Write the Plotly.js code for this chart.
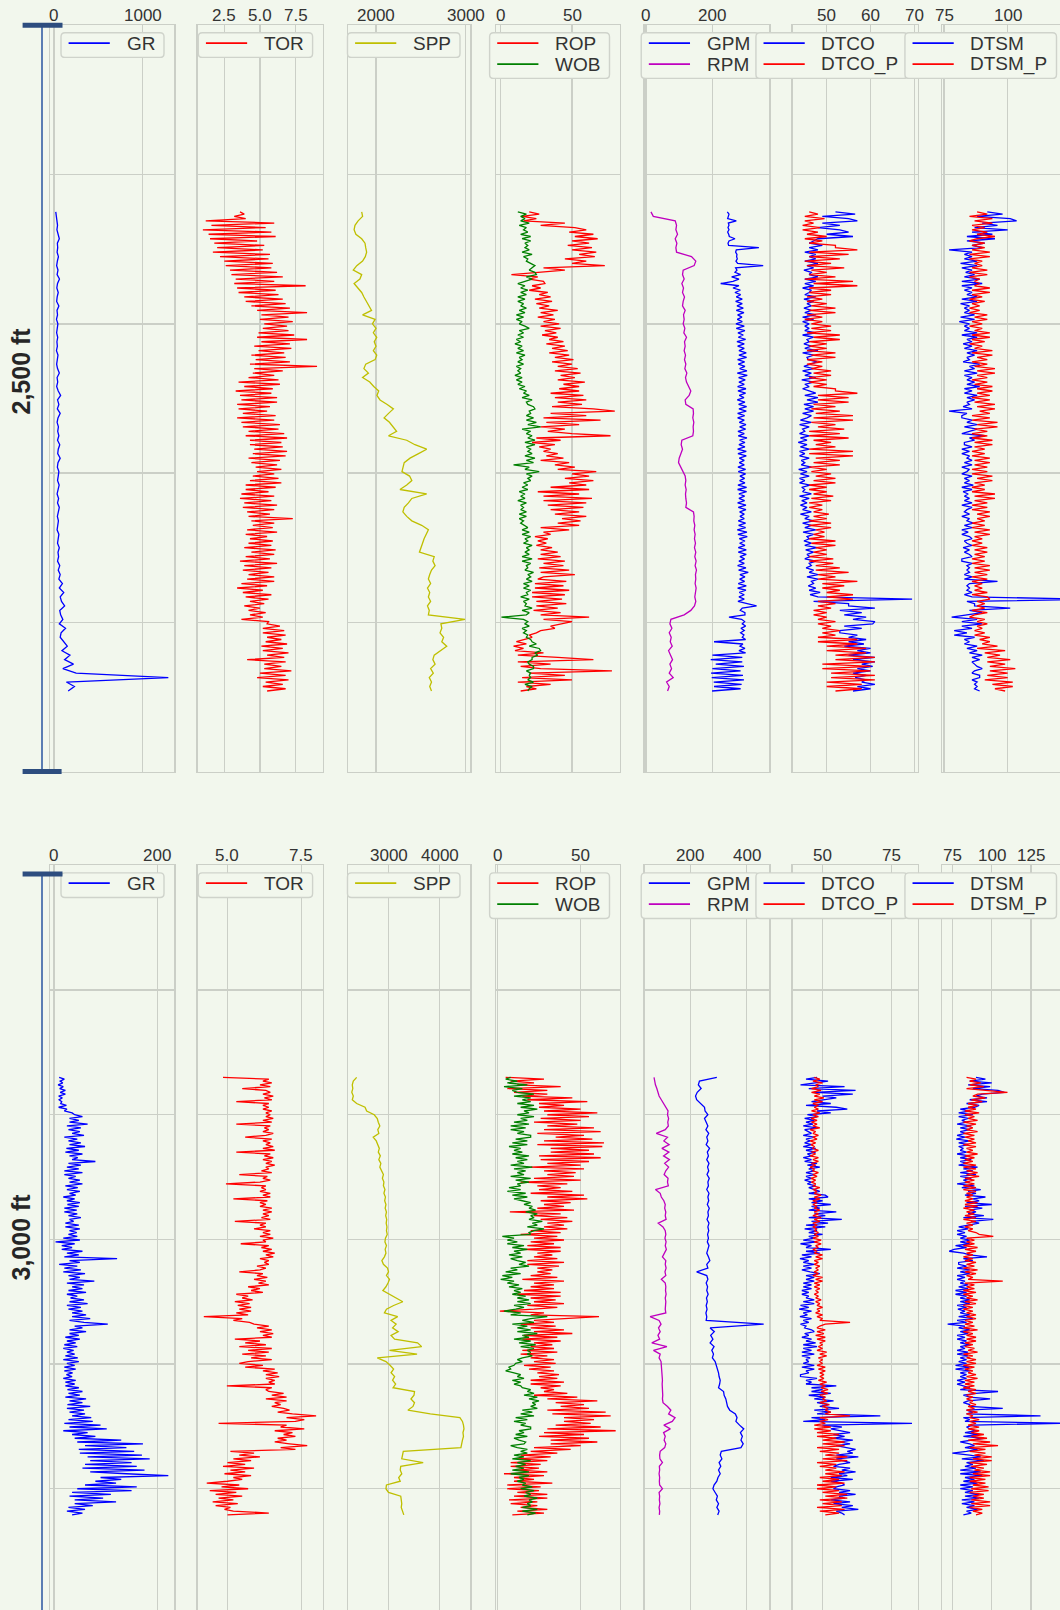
<!DOCTYPE html>
<html><head><meta charset="utf-8">
<script src="https://cdn.plot.ly/plotly-3.0.1.min.js"></script>
<style>html,body{margin:0;padding:0;overflow:hidden;background:#f2f7ed;}#chart{width:1075px;height:1660px;}</style>
</head><body><div id="chart"></div>
<script>
// ================= DATA: upper section =================
// coarse depth grid (ft) for the smoother curves
const depthTop = [2395,2398,2401,2404,2407,2410,2413,2416,2419,2422,
2425,2428,2431,2434,2437,2440,2443,2446,2449,2452,
2455,2458,2461,2464,2467,2470,2473,2476,2479,2482,
2485,2488,2491,2494,2497,2500,2503,2506,2509,2512,
2515,2518,2521,2524,2527,2530,2533,2536,2539,2542,
2545,2548,2551,2554,2557,2560,2563,2566,2569,2572,
2575,2578,2581,2584,2587,2590,2593,2596,2599,2602,
2605,2608,2611,2614,2617,2620,2623,2626,2629,2632,
2635,2638,2641,2644,2647,2650,2653,2656,2659,2662,
2665,2668,2671,2674,2677,2680,2683,2686,2689,2692,
2695,2698,2701,2704,2707,2710,2713,2716];
// fine depth grid (ft) for the noisy curves
const depthTopFine = [2395,2396.5,2398,2399.5,2401,2402.5,2404,2405.5,2407,2408.5,2410,2411.5,2413,2414.5,2416,2417.5,2419,2420.5,2422,2423.5,
2425,2426.5,2428,2429.5,2431,2432.5,2434,2435.5,2437,2438.5,2440,2441.5,2443,2444.5,2446,2447.5,2449,2450.5,2452,2453.5,
2455,2456.5,2458,2459.5,2461,2462.5,2464,2465.5,2467,2468.5,2470,2471.5,2473,2474.5,2476,2477.5,2479,2480.5,2482,2483.5,
2485,2486.5,2488,2489.5,2491,2492.5,2494,2495.5,2497,2498.5,2500,2501.5,2503,2504.5,2506,2507.5,2509,2510.5,2512,2513.5,
2515,2516.5,2518,2519.5,2521,2522.5,2524,2525.5,2527,2528.5,2530,2531.5,2533,2534.5,2536,2537.5,2539,2540.5,2542,2543.5,
2545,2546.5,2548,2549.5,2551,2552.5,2554,2555.5,2557,2558.5,2560,2561.5,2563,2564.5,2566,2567.5,2569,2570.5,2572,2573.5,
2575,2576.5,2578,2579.5,2581,2582.5,2584,2585.5,2587,2588.5,2590,2591.5,2593,2594.5,2596,2597.5,2599,2600.5,2602,2603.5,
2605,2606.5,2608,2609.5,2611,2612.5,2614,2615.5,2617,2618.5,2620,2621.5,2623,2624.5,2626,2627.5,2629,2630.5,2632,2633.5,
2635,2636.5,2638,2639.5,2641,2642.5,2644,2645.5,2647,2648.5,2650,2651.5,2653,2654.5,2656,2657.5,2659,2660.5,2662,2663.5,
2665,2666.5,2668,2669.5,2671,2672.5,2674,2675.5,2677,2678.5,2680,2681.5,2683,2684.5,2686,2687.5,2689,2690.5,2692,2693.5,
2695,2696.5,2698,2699.5,2701,2702.5,2704,2705.5,2707,2708.5,2710,2711.5,2713,2714.5,2716];
const grTop = [20,28,35,40,33,45,60,38,42,35,
50,38,30,45,35,62,40,32,48,36,
30,55,34,40,28,44,36,30,42,33,
38,28,45,35,30,40,60,35,42,30,
48,75,40,55,38,70,45,35,50,42,
55,40,65,48,42,70,45,38,55,48,
40,58,45,35,52,40,60,45,38,50,
42,35,55,48,40,60,45,52,40,65,
48,70,55,95,60,110,70,85,120,65,
75,100,60,130,80,70,110,150,90,180,
120,220,100,250,1290,140,230,160];
const torTop = [3.6,3.9,3.2,4.0,1.2,6.0,1.6,5.4,1.0,5.8,1.4,6.1,1.5,4.8,1.8,5.3,2.0,5.2,1.7,5.7,
2.2,5.6,2.5,5.9,2.6,5.8,2.9,6.2,3.0,6.6,3.3,6.0,3.2,8.2,3.4,6.1,3.5,6.3,3.9,6.6,
4.0,6.8,4.4,7.1,4.8,8.3,5.1,7.0,5.0,7.3,5.3,6.9,5.2,7.0,4.9,7.4,4.8,8.3,5.1,7.1,
4.6,7.2,4.9,6.7,4.4,6.8,4.7,7.1,4.3,9.0,4.6,6.6,4.5,6.0,4.2,6.3,3.5,6.4,3.9,5.9,
3.3,5.8,3.6,6.2,3.7,6.2,3.4,5.7,3.5,5.5,3.8,6.1,3.4,6.0,3.7,6.4,3.8,6.3,4.2,6.7,
4.0,6.9,4.3,6.5,4.3,6.6,4.6,6.9,4.5,6.8,4.2,6.4,4.4,6.2,4.7,6.5,4.8,6.0,4.5,6.3,
4.3,6.5,4.0,6.1,4.0,5.6,3.7,6.0,3.6,5.8,3.9,6.2,3.8,6.0,4.1,5.7,4.2,7.3,4.4,6.0,
4.5,5.9,4.1,6.2,4.0,5.5,4.3,5.9,4.2,5.8,3.9,6.1,4.4,6.0,4.0,5.7,3.6,6.2,3.9,5.8,
3.8,5.6,4.2,6.0,4.1,6.0,3.7,5.5,3.4,5.2,3.8,5.8,4.0,5.6,4.3,5.3,3.9,5.0,4.2,5.4,
4.3,5.2,3.7,5.6,5.5,6.4,5.2,6.7,5.2,6.8,5.5,6.5,5.4,6.9,5.1,6.6,5.2,7.0,5.5,6.7,
4.1,6.8,5.3,6.5,5.3,7.2,5.0,6.8,4.8,7.0,5.4,6.6,5.2,6.8,5.5];
const sppTop = [1840,1850,1800,1765,1755,1775,1840,1877,1885,1895,
1880,1850,1785,1746,1840,1820,1755,1800,1840,1865,
1895,1925,1950,1850,1990,1960,2000,1970,2008,1980,
2000,1970,2008,1990,1885,1865,1915,1850,1930,1975,
2030,2010,2045,2125,2194,2140,2090,2150,2194,2230,
2140,2343,2435,2566,2475,2380,2315,2300,2290,2375,
2400,2343,2268,2566,2400,2362,2315,2300,2343,2400,
2510,2585,2560,2537,2520,2500,2485,2650,2635,2660,
2620,2600,2585,2610,2575,2600,2585,2610,2575,2595,
2585,2994,2725,2735,2715,2755,2735,2790,2715,2650,
2635,2660,2610,2640,2595,2620,2600,2620];
const ropTop = [20,27,15,25,16,45,28,52,60,48,65,52,68,50,62,47,64,50,67,55,
66,45,60,50,73,30,45,28,7.5,26,20,30,31,22,28,20,33,27,35,24,
36,25,34,27,40,28,37,26,38,30,41,28,42,31,39,29,40,34,44,32,
45,36,47,34,48,38,51,36,50,40,54,38,56,42,52,40,59,44,55,41,
55,35,58,38,60,40,57,36,65,80,35,60,30,70,32,55,28,45,33,50,
77,25,42,22,38,27,35,30,40,32,44,28,48,38,52,40,67,50,62,45,
65,48,60,35,62,26,55,30,64,30,60,33,58,35,55,38,60,43,56,40,
55,28,48,30,35,24,33,26,32,25,36,28,40,28,42,26,45,30,44,27,
48,28,52,30,26,46,24,44,24,48,22,45,22,43,25,46,25,40,23,42,
28,62,30,50,42,35,38,28,25,20,22,16,11,18,9,16,10,30,12,40,
65,12,35,14,28,78,20,45,15,50,12,35,18,25,14];
const wobTop = [12,18,14,17,14,20,13,18,16,19,14,21,15,21,17,19,17,20,15,22,
16,19,18,21,24,22,20,24,25,18,22,17,12,17,14,19,14,18,12,17,
12,16,14,18,13,17,11,16,11,15,13,17,20,13,16,12,16,11,14,10,
15,12,16,11,17,13,15,12,16,11,14,12,14,10,15,11,15,12,17,13,
18,16,20,15,22,18,19,23,24,20,21,18,23,18,25,19,28,15,21,18,
22,19,24,17,24,18,21,19,22,17,24,18,23,9,20,17,27,18,22,19,
21,16,19,15,19,13,17,14,17,12,18,14,16,14,18,13,18,13,16,14,
17,19,15,20,15,21,17,19,16,22,18,20,17,20,15,22,15,21,18,19,
17,23,19,21,18,22,16,20,16,21,18,19,14,20,16,18,17,22,15,20,
18,0.5,16,19,17,20,15,18,16,19,18,21,22,25,20,27,28,24,26,22,
22,19,20,23,23,18,21,20,21,19,23,17,22,20,19];
const gpmTop = [245,250,248,246,272,248,250,247,250,246,249,251,268,250,247,249,340,272,270,274,
273,275,271,276,353,270,274,268,285,258,280,262,225,280,262,284,268,285,272,290,
270,290,274,293,272,295,276,289,275,290,271,296,272,298,277,293,278,300,274,296,
276,296,280,302,280,303,276,297,278,298,282,304,275,305,279,299,280,296,276,301,
277,300,281,295,275,298,279,303,280,302,276,297,276,296,281,301,282,300,277,296,
278,304,282,298,280,298,276,302,277,302,281,296,281,296,277,300,278,300,283,297,
282,298,277,303,276,303,280,297,280,297,276,301,278,301,282,296,283,296,278,300,
279,300,275,304,277,305,281,298,282,298,278,302,278,302,283,297,280,296,276,301,
279,308,283,298,282,297,278,302,276,301,281,296,280,296,277,302,333,290,284,298,
298,250,288,297,290,300,286,296,285,295,290,300,205,292,283,298,280,300,200,290,
195,290,210,295,200,285,196,292,198,295,204,288,205,285,199];
const rpmTop = [15,22,88,92,90,95,88,93,90,92,
137,150,145,112,110,115,108,113,110,116,
112,110,118,113,115,112,117,114,122,116,
118,115,119,116,120,117,123,119,122,128,
135,130,118,120,142,143,141,144,142,143,
141,108,106,110,104,100,98,105,110,118,
120,118,121,119,120,122,120,143,145,144,
147,145,148,146,149,146,150,147,151,148,
152,149,150,148,151,149,147,150,146,135,
115,75,72,78,70,76,73,79,68,74,
80,72,77,70,82,62,70,65];
const dtcoTop = [52,56.5,49,55,57,49,53,48,53,55,50,56,48,47,46,49,46,48,45,47.5,
46,47.5,45,48,45.5,47,44.8,46.5,46,48,45,47.5,45,47,44.5,46.5,46,45,47.5,44.8,
47,45.5,46.5,44.8,46.5,45,47.5,44.5,47,44.5,46,45,46,45,47.5,44.5,47,45.5,46,44.8,
46.5,45,48,44.5,47,45.5,45.8,47.8,46,44.8,47,44.5,46.5,45,47.5,44.3,47,45,46,44.5,
46,47.5,45,48,45.5,48,44.8,47,45,47,44.5,46.5,45.5,44,46.5,43.8,46,44.5,45,43.8,
46,44,45.5,43.5,45.5,44,46,43.8,45,43.8,46,44.2,45,44.2,46.5,43.6,45.5,44,46,43.8,
45,43.8,46.2,44.3,45,44.5,46.5,43.8,46,44.3,45.5,44,45.5,44.5,46.5,44,46,45,47,44.5,
46.5,45,47.5,44.6,47,45.5,46,44.8,46.5,45,47.8,45.2,47,45.5,46.2,45,47.5,46,46.5,45.3,
47,46,48,45.5,48,46.5,47,45.8,47.5,46,48.5,46.2,48,69.5,47,55,55,61,53,58,
54,59,56,61,60.5,54,58,53,53,57,55,59,55,58.5,54,60,57,60,55,61,
56,61,58,60.5,57,60,56,59,56.5,59,58,61,57,60,56];
const dtcoPTop = [46,48,45,49.5,45,47,44.5,48.5,44.5,48,45.5,50,45,49,46,52,52,57,46,55,
46,53,45,51,45.5,54,46.5,50,46,52,45,56,47,57,46,51,46,51,45.5,49,
45.5,50,46.5,52,46,52,45.5,49,45,49,46.5,51,46.5,51,45.5,53,47,53,46,50,
46,50,45.5,52,46.5,52,45.5,49,45.5,49,46.5,51,47,51,46,50,46,50,47,52,
52,57,48,55,48,55,47,52,46.5,53,47.5,56,47,56,46.5,52,48,54,46,53,
46,55,47,51,47.5,52,46,56,46,56,47.5,53,47,53,46,50,46.5,51,47.5,52,
47,52,46,50,46,50,47,51.5,46.5,51,46,49,46,49,47,50.5,47,50,46,51,
46,51,47.5,49.5,47,49.5,46,52,46.5,52,47.5,50,47,50,46,51.5,46,51.5,47.5,53,
47.5,55,48,52,48,57,49,54,49,53,50,56,50,56,48,52,48,51,47,50,
47,50,48,52,48,51,49,53,49,52,48,57,48,57,50,59,50,59,52,61,
52,61,49,60,49,60,51,61,51,61,50,58,50,58,52];
const dtsmTop = [92,98,88,101,103.5,90,96,87,100,86,94,84,95,84,91,86,90,77,86,83,
86,83,88,81.5,88,82,86,83.5,87,83,89,82,90,82,86,83,86,84,88,82,
88,81.5,85,83,85,83,87,81.5,87,81,85,83,85,83,88,82,88,84,86,82.5,
86,83,88,84,87,84,85,82.5,89,85,87,83,88,83,86,84,87,84,89,83,
86,83,88,84,87,84,85,82.5,86,77,84,82,82,86,84,88,83,88,85,82,
91,85,87,83,83,86,82,85,82,85,84,86,83,86,82,85,84,82,86,83,
85,83,86.5,82,86,82.5,84.5,83,85,83,86,82,86,84,83,85,82,85,84,86.5,
83,86,82,84.5,82,85,86,83,84,86,82.5,85,83,85,86,82,82,86,84,85,
84,85,83,86,83,96,85,84,85,84,86,83,86,135,84,87,87,101,85,90,
84,78,88,82,90,82,86,79,84,79,87,83,85,83,88,84,88,85,90,86,
89,86,87,88,90,87,86,89,89,86,88,87,88,87,89];
const dtsmPTop = [88,92,85,94,87,94,86,91,86,92,88,95,88,85,91,86,91,86,93,85,
93,85,90,87,90,86,92,85,92,85,89,87,89,87,93,86,93,86,90,85,
91,86,89,85,89,85,92,87,92,86,90,85,90,87,93,86,93,86,91,85,
90,87,94,86,94,88,92,86,92,87,95,88,95,88,92,86,92,87,94,88,
94,88,93,86,93,87,95,88,95,89,93,86,93,86,96,88,96,87,92,86,
92,86,94,87,94,87,91,86,91,86,93,87,93,87,92,86,92,86,94,88,
94,87,91,86,91,86,95,87,95,87,92,86,92,86,93,88,93,88,91,86,
91,86,93,87,93,87,90,86,90,86,92,87,92,87,91,86,91,86,93,87,
93,87,92,86,92,86,90,87,90,87,92,86,92,93,88,91,88,91,86,92,
87,85,91,88,92,88,90,87,91,87,93,89,93,90,96,88,99,91,97,92,
101,92,99,93,103,93,100,92,100,91,102,94,102,95,99];

// ================= DATA: lower section =================
const depthBot = [2870,2873,2876,2879,2882,2885,2888,2891,2894,2897,
2900,2903,2906,2909,2912,2915,2918,2921,2924,2927,
2930,2933,2936,2939,2942,2945,2948,2951,2954,2957,
2960,2963,2966,2969,2972,2975,2978,2981,2984,2987,
2990,2993,2996,2999,3002,3005,3008,3011,3014,3017,
3020,3023,3026,3029,3032,3035,3038,3041,3044,3047,
3050,3053,3056,3059,3062,3065,3068,3071,3074,3077,
3080,3083,3086,3089,3092,3095,3098,3101,3104,3107,
3110,3113,3116,3119,3122,3125,3128,3131,3134,3137,
3140,3143,3146,3149,3152,3155,3158,3161,3164,3167,
3170,3173,3176,3179,3182,3185,3188,3191,3194,3197,
3200,3203,3206,3209,3212,3215,3218,3221];
const depthBotFine = [2870,2871.5,2873,2874.5,2876,2877.5,2879,2880.5,2882,2883.5,2885,2886.5,2888,2889.5,2891,2892.5,2894,2895.5,2897,2898.5,
2900,2901.5,2903,2904.5,2906,2907.5,2909,2910.5,2912,2913.5,2915,2916.5,2918,2919.5,2921,2922.5,2924,2925.5,2927,2928.5,
2930,2931.5,2933,2934.5,2936,2937.5,2939,2940.5,2942,2943.5,2945,2946.5,2948,2949.5,2951,2952.5,2954,2955.5,2957,2958.5,
2960,2961.5,2963,2964.5,2966,2967.5,2969,2970.5,2972,2973.5,2975,2976.5,2978,2979.5,2981,2982.5,2984,2985.5,2987,2988.5,
2990,2991.5,2993,2994.5,2996,2997.5,2999,3000.5,3002,3003.5,3005,3006.5,3008,3009.5,3011,3012.5,3014,3015.5,3017,3018.5,
3020,3021.5,3023,3024.5,3026,3027.5,3029,3030.5,3032,3033.5,3035,3036.5,3038,3039.5,3041,3042.5,3044,3045.5,3047,3048.5,
3050,3051.5,3053,3054.5,3056,3057.5,3059,3060.5,3062,3063.5,3065,3066.5,3068,3069.5,3071,3072.5,3074,3075.5,3077,3078.5,
3080,3081.5,3083,3084.5,3086,3087.5,3089,3090.5,3092,3093.5,3095,3096.5,3098,3099.5,3101,3102.5,3104,3105.5,3107,3108.5,
3110,3111.5,3113,3114.5,3116,3117.5,3119,3120.5,3122,3123.5,3125,3126.5,3128,3129.5,3131,3132.5,3134,3135.5,3137,3138.5,
3140,3141.5,3143,3144.5,3146,3147.5,3149,3150.5,3152,3153.5,3155,3156.5,3158,3159.5,3161,3162.5,3164,3165.5,3167,3168.5,
3170,3171.5,3173,3174.5,3176,3177.5,3179,3180.5,3182,3183.5,3185,3186.5,3188,3189.5,3191,3192.5,3194,3195.5,3197,3198.5,
3200,3201.5,3203,3204.5,3206,3207.5,3209,3210.5,3212,3213.5,3215,3216.5,3218,3219.5,3221];
const grBot = [10,20,12,17,8,18,11,22,12,22,9,16,10,15,13,24,9,25,20,35,
40,55,30,48,30,65,25,52,28,50,35,58,20,45,28,52,30,60,24,48,
22,55,30,46,35,80,28,52,25,48,20,55,20,42,28,50,30,55,22,46,
25,50,30,42,18,40,25,50,26,48,20,44,20,45,28,52,30,38,22,48,
22,50,30,44,28,45,18,50,3,40,15,35,15,55,25,48,20,122,30,50,
10,45,20,52,18,60,28,50,30,78,25,58,35,55,28,62,25,45,32,58,
30,65,25,52,28,55,35,62,35,70,30,58,104,40,55,30,62,30,48,22,
50,25,42,20,45,18,38,25,40,22,46,18,48,25,40,20,42,20,36,24,
35,18,42,22,40,22,48,26,55,28,50,22,62,30,55,26,70,25,58,30,
60,35,72,28,75,20,90,30,102,18,65,35,80,40,130,45,172,60,140,48,
155,50,170,65,185,70,150,60,160,55,175,70,140,221,90,130,80,120,60,160,
45,150,35,110,30,95,40,120,40,75,28,60,25,55,35];
const torBot = [4.85,6.4,6.2,6.5,6.1,6.45,5.5,6.3,6.45,6.2,6.55,6.25,6.5,5.3,6.4,6.2,6.4,6.2,6.5,6.3,
6.45,6.3,6.55,6.2,6.5,5.3,6.45,6.25,6.4,6.2,6.55,6.3,5.6,6.5,6.2,6.45,6.3,6.55,6.2,6.6,
5.3,6.45,6.25,6.55,6.2,6.5,6.3,6.6,6.3,6.4,6.15,6.5,5.4,6.35,6.2,6.45,6.1,4.95,6.3,6.15,
6.3,6.1,6.45,6.2,6.45,5.2,6.35,6.1,6.3,6.1,6.5,6.2,6.5,6.2,6.4,6.15,6.45,5.25,6.3,6.1,
6.3,5.9,6.45,6.2,6.45,6.1,6.55,6.2,6.3,5.45,6.4,6.15,6.5,6.2,6.6,6.3,6.55,6.1,6.4,6.25,
6.4,6.0,6.3,6.1,5.4,6.2,6.0,6.35,5.9,6.3,6.05,6.4,5.7,6.1,5.8,6.2,5.3,5.7,5.5,5.85,
5.25,5.75,5.35,5.8,5.4,5.8,5.3,5.7,4.2,5.5,5.2,5.75,5.9,6.4,6.0,6.5,6.1,6.55,6.2,6.5,
5.25,6.1,5.6,6.3,5.4,6.5,5.7,6.4,5.5,6.3,5.8,6.5,5.7,5.4,6.2,5.6,6.6,6.2,6.7,6.3,
6.75,6.3,6.6,6.4,6.6,4.98,6.5,6.3,6.4,6.9,6.5,7.0,6.3,7.0,6.6,6.8,6.5,6.9,7.1,6.7,
7.2,8.0,7.0,7.6,7.3,4.7,7.0,6.8,7.6,6.6,7.2,6.9,7.3,6.7,7.0,6.6,7.1,7.7,6.8,7.3,
5.1,5.9,5.4,6.1,5.2,5.8,5.0,5.6,4.85,5.9,5.1,5.6,4.9,5.8,5.2,5.5,5.0,4.3,5.4,4.8,
5.7,4.4,5.3,4.6,5.5,4.7,5.2,4.5,5.35,4.6,5.1,4.9,5.2,6.4,5.0];
const sppBot = [2376,2310,2290,2300,2280,2310,2290,2376,2540,2572,
2720,2780,2800,2830,2790,2810,2700,2760,2790,2820,
2800,2840,2810,2850,2830,2860,2900,2880,2910,2900,
2930,2910,2940,2925,2950,2935,2960,2945,2965,2955,
2970,2960,2975,2940,2930,2960,2935,2950,2920,2870,
2900,2980,3000,2960,3020,2990,2950,2890,3020,3150,
3280,3100,2960,2920,3180,3050,3150,3080,3190,3050,
3120,3570,3650,3020,3560,2780,2950,3030,3100,3050,
3120,3080,3140,3090,3510,3500,3440,3510,3480,3380,
3820,4400,4450,4470,4480,4460,4470,4450,4440,4420,
3290,3270,3260,3680,3240,3230,3260,3200,3230,2960,
2950,3000,3240,3250,3260,3250,3270,3300];
const ropBot = [5,28,8,22,12,38,6,30,10,30,15,45,18,54,25,40,25,50,28,60,
30,55,26,50,22,48,30,58,28,62,24,52,35,57,28,64,24,63,32,55,
32,58,25,62,26,55,30,50,20,52,28,47,30,46,22,50,14,42,24,38,
25,45,20,52,30,54,26,44,28,40,24,46,7.5,38,22,42,26,45,30,40,
28,42,20,38,14,36,22,40,20,34,18,38,16,38,24,33,22,36,18,40,
18,37,24,33,24,32,20,36,15,40,22,34,20,34,16,38,12,38,20,35,
22,40,18,36,22,1.5,28,20,61,38,22,34,14,35,20,40,22,45,16,36,
15,38,22,33,20,34,15,36,14,30,20,34,22,35,16,32,19,34,24,37,
25,36,20,40,20,38,26,34,28,42,22,48,30,60,35,52,38,55,30,65,
33,68,40,58,40,56,35,62,30,71,28,52,25,55,32,60,32,50,22,44,
20,36,14,32,12,30,8,26,8,25,12,30,4,28,10,22,10,33,6,26,
6,25,12,30,10,30,7,24,8,24,14,30,12,28,9];
const wobBot = [8,5,12,6,18,4,15,9,12,22,10,20,15,20,12,22,14,24,16,19,
12,22,14,18,10,19,8,17,8,16,12,20,20,11,18,9,18,7,14,10,
15,9,19,11,18,12,16,8,21,10,17,12,16,8,20,11,19,12,14,7,
14,6,17,9,18,10,15,20,16,21,19,23,17,24,20,22,19,27,21,24,
18,28,22,19,20,3,10,6,12,6,16,9,18,10,14,7,15,8,12,17,
13,19,8,12,5,14,3,9,2,10,6,13,7,15,10,14,9,17,12,19,
12,20,10,16,11,4,14,8,30,20,15,22,9,18,12,20,12,24,15,19,
10,20,13,23,14,22,18,20,18,21,15,12,15,11,10,7,8,5,10,14,
12,16,9,14,10,14,15,20,18,22,16,24,19,25,21,23,20,24,15,21,
14,22,11,18,10,17,14,20,20,13,16,11,18,10,13,17,16,8,12,18,
14,18,10,16,9,20,12,17,11,16,9,19,8,19,13,16,12,17,15,21,
14,22,17,20,16,24,19,21,18,20,15,24,15,23,18];
const gpmBot = [294,232,228,238,224,218,222,238,250,252,
262,250,257,262,255,265,258,262,256,268,
260,264,258,266,261,265,259,267,262,264,
258,266,262,265,260,267,262,264,259,266,
262,265,261,264,260,266,262,258,264,269,
258,262,222,258,262,256,261,258,263,257,
260,256,259,255,258,256,461,270,285,272,
280,270,284,276,282,278,288,292,297,300,
302,306,304,300,318,320,326,328,332,340,
360,366,362,375,390,378,385,380,388,380,
310,306,312,302,308,300,306,298,294,284,
280,288,296,292,300,294,302,297];
const rpmBot = [70,72,75,80,84,88,96,104,115,120,
118,122,119,121,110,78,118,105,124,98,
123,104,125,108,122,112,106,120,118,121,
75,92,96,105,110,108,112,110,113,85,
102,110,112,109,113,110,114,108,100,112,
110,113,109,112,96,110,112,111,113,110,
112,111,110,112,56,88,95,86,92,84,
90,62,116,68,92,88,95,96,97,99,
98,100,99,100,99,101,100,102,118,130,
122,145,135,105,128,104,110,106,112,108,
92,90,91,100,89,90,88,90,89,90,
100,88,90,89,91,88,90,89];
const dtcoBot = [48,44,52,46,42,58,45,62,47,61,50,55,50,46,53,44,55,59,48,53,
44.5,48,43.5,47,44,46.5,43,48,43.5,45,46,43,47,44,45.5,43.5,46,43,47.5,44,
47.5,44.5,46,43,46,43.5,48,44.5,49,45,47,44,47,44,46,43.5,46,44.5,47.5,45,
47,49,45,51,52,45,50,46,53,46,49,45,55,47,51,45,57,46,52,44,
51,43.5,48,45,50,45,47,43,48,42,46,44,53,44,49,42.5,46,41.8,45,43,
47,43,46,42.5,45.5,49,44,47,44,47,43,46,43,46,42.5,45,42.5,45,44,47,
43,47,42,45,41.5,46,43,44.5,41.8,46,43,45,42,44,43.5,46,47,43.5,45,42.5,
46,44,47.5,43,48,43,46,42.5,47,42.5,45.5,44,45,43,47,42.5,47,44,45,42,
42,48,44,46,44,55,46,50,46,53,45,51,47,54,48,52,49,56,47,53,
48,71,46,51,43,82.5,50,57,53,56,60,54,58,54,61,56,60,55,58,62,
59,61,55,63,55,58,60,56,54,60,57,62,56,59,53,61,53,57,58,55,
54,60,56,62,56,58,53,60,54,61,57,63,55,57,58];
const dtcoPBot = [47,49,46.5,50,47.5,48.5,46,49.5,46,49,47,50.5,47,50,46.5,48.5,47,48.5,46,49,
46.5,48.5,45.8,48,46,48,46.5,49,45.5,47.5,46.5,48.5,46.5,48,45.5,47.5,45.8,47,46.5,48.5,
46,47.5,45.5,48.5,46.5,48.5,46,47.5,45.5,47,46.5,48.5,46.5,48,45.8,47.5,46,47.5,46.5,49,
46.5,48,47,49.5,47,49,46.5,48,46.5,48,47,49,47,48.5,46.5,49.5,47,49,46.5,48,
46.5,48,47,48.5,47,48.5,46.5,49.5,47,49.5,47.5,48.5,46.5,48,47,50,47.5,50,47,48.5,
47,49,47.5,48.5,47,48.5,46.5,50,47.5,50,47,49,47,49,47.5,48.5,47,48.5,47.5,49.5,
47.5,49,48,50,48,49,47.5,50,48,50,49,60,51,49,48,51,48,50.5,47.5,51,
48,51,49,50,48.5,50,48,51.5,49,51.5,48.5,50,49,50,48,51,48.5,51,49,50.5,
49,50.5,48.5,51.5,49,51,49.5,52,49.5,52,49,51,50,51.5,49,52.5,50,52,51,53,
51,60,49,52,49,51,47,53,47,53,48,56,48,55,50,58,50,58,48,56,
49,56,51,59,50,59,48,55,49,55,51,58,51,57,49,56,50,58,48,55,
48,56,50,59,51,59,49,57,50,57,48,58,49,56,51];
const dtsmBot = [90,96,86,100,85,99,88,104,108,94,90,97,86,97,84,92,89,80,86,79,
88,79,85,81,84,78,87,80,86,80,83,78,83,77.5,86,79,85,79,82,80,
84,78,86,80,87,80,84,79,91,82,88,80,90,80,87,82,86,78,89,81,
93,85,90,83,96,88,92,84,100,83,94,86,90,85,95,82,101,87,92,84,
79,85,78,83,78,84,80,86,80,86,77,84,76,73,82,86,97,82,88,79,
79,84,78,86,80,86,78,83,78,83,80,85,79,85,77,84,77,84,80,86,
80,86,78,84,78.5,83,80,86,79,88,78,84,72,83,79,86,80,85,78,83,
78,84,80,86,80,83,78,85,78,85,80,84,79,84,77,86,77,86,80,84,
80,84,78,83,78,82,86,80,104,90,82,86,99,85,82,86,86,107,84,88,
84,131,82,86,83,145,88,84,86,90,83,92,82,95,86,80,86,89,83,91,
84,75,86,93,81,95,84,88,83,90,80,93,80,94,83,89,82,91,80,88,
80,88,83,92,83,92,81,89,81,89,84,91,84,87,82];
const dtsmPBot = [84,90,86,93,86,95,84,98,110,91,88,96,87,94,85,91,85,90,83,92,
83,89,85,91,82,90,84,88,84,91,82,89,83,89,85,90,82,90,84,88,
84,91,83,89,83,88,82,90,82,90,84,91,84,92,83,89,83,89,82,90,
82,90,84,88,84,88,83,91,83,91,82,89,84,89,83,90,82,90,84,88,
83,88,85,90,92,101,84,89,84,89,82,91,83,90,84,88,82,88,83,90,
84,89,82,91,83,90,84,88,85,107,83,89,84,89,82,90,82,88,84,91,
83,90,82,88,82,88,84,90,84,90,83,88,83,89,82,91,82,88,84,90,
84,90,83,88,83,89,85,91,82,88,84,90,84,90,82,89,83,88,85,90,
84,91,83,89,83,89,82,90,85,90,84,88,84,88,86,90,85,89,84,91,
84,88,86,92,86,90,85,92,85,92,87,95,87,97,85,99,88,104,86,96,
86,96,89,100,88,100,86,97,87,95,89,99,88,99,86,96,86,96,88,98,
87,98,86,95,88,95,87,99,87,99,86,94,88,94,90];

// tick values on the value axes, per track
const ticksTop = [[0,1000],[2.5,5,7.5],[2000,3000],[0,50],[0,200],[50,60,70],[75,100]];
const ticksBot = [[0,200],[5,7.5],[3000,4000],[0,50],[200,400],[50,75],[75,100,125]];
// labels
const depthLabels = ['2,500 ft', '3,000 ft'];
const curveNames = [['GR'],['TOR'],['SPP'],['ROP','WOB'],['GPM','RPM'],['DTCO','DTCO_P'],['DTSM','DTSM_P']];

// ================= LAYOUT =================
const W = 1075, H = 1660;
const BG = '#f2f7ed', GRID = '#cbcfc7', TXT = '#333333';
const FONT = '"Liberation Sans", Arial, sans-serif';
const X = px => px / W, Y = py => 1 - py / H;

const trackL = [50, 197.6, 348, 496, 644.5, 792.8, 942.3];
const trackR = [174, 322.6, 470, 619.5, 769, 917.5, 1066.5];
const colors = [['#0000ff'],['#ff0000'],['#bfbf00'],['#ff0000','#008000'],['#0000ff','#bf00bf'],['#0000ff','#ff0000'],['#0000ff','#ff0000']];

const panels = [
  {top: 25.3, bottom: 771.6, yr: [2770, 2270], tick0: 2270, ticks: ticksTop,
   series: [[[grTop, depthTop]], [[torTop, depthTopFine]], [[sppTop, depthTop]],
            [[ropTop, depthTopFine], [wobTop, depthTopFine]], [[gpmTop, depthTopFine], [rpmTop, depthTop]],
            [[dtcoTop, depthTopFine], [dtcoPTop, depthTopFine]], [[dtsmTop, depthTopFine], [dtsmPTop, depthTopFine]]],
   xr: [[-45,1354],[0.63,9.39],[1687,3050],[-3.3,83.3],[-4.5,370.5],[42.26,70.73],[74.33,123.1]],
   labelY: 371},
  {top: 865.4, bottom: 1613.4, yr: [3300, 2700], tick0: 2700, ticks: ticksBot,
   series: [[[grBot, depthBotFine]], [[torBot, depthBotFine]], [[sppBot, depthBot]],
            [[ropBot, depthBotFine], [wobBot, depthBotFine]], [[gpmBot, depthBot], [rpmBot, depthBot]],
            [[dtcoBot, depthBotFine], [dtcoPBot, depthBotFine]], [[dtsmBot, depthBotFine], [dtsmPBot, depthBotFine]]],
   xr: [[-7.7,232],[3.99,8.22],[2206,4598],[-0.8,73.3],[36,480],[39.2,84.5],[68.6,147.5]],
   labelY: 1237}
];

const cv = document.createElement('canvas').getContext('2d');
cv.font = '19px "Liberation Sans", Arial';
const tw = s => cv.measureText(s).width;

function roundRect(l, t, r, b, rad) {
  const p = (x, y) => X(x).toFixed(6) + ',' + Y(y).toFixed(6);
  return 'M' + p(l + rad, t) + ' L' + p(r - rad, t) + ' Q' + p(r, t) + ' ' + p(r, t + rad) +
    ' L' + p(r, b - rad) + ' Q' + p(r, b) + ' ' + p(r - rad, b) + ' L' + p(l + rad, b) +
    ' Q' + p(l, b) + ' ' + p(l, b - rad) + ' L' + p(l, t + rad) + ' Q' + p(l, t) + ' ' + p(l + rad, t) + ' Z';
}

const data = [], shapes = [], annotations = [];
const layout = {
  width: W, height: H, margin: {l: 0, r: 0, t: 0, b: 0},
  paper_bgcolor: BG, plot_bgcolor: BG, showlegend: false,
  font: {family: FONT, size: 17, color: TXT}, shapes, annotations
};

panels.forEach((pan, p) => {
  for (let t = 0; t < 7; t++) {
    const n = p * 7 + t + 1;
    const xa = n === 1 ? 'x' : 'x' + n, ya = n === 1 ? 'y' : 'y' + n;
    layout[n === 1 ? 'xaxis' : 'xaxis' + n] = {
      domain: [X(trackL[t]), X(trackR[t])], range: pan.xr[t], anchor: ya, side: 'top',
      tickvals: pan.ticks[t], showticklabels: false, ticks: '',
      showgrid: true, gridcolor: GRID, gridwidth: 1.5, zeroline: false,
      showline: true, mirror: true, linecolor: GRID, linewidth: 1.5, fixedrange: true
    };
    layout[n === 1 ? 'yaxis' : 'yaxis' + n] = {
      domain: [Y(pan.bottom), Y(pan.top)], range: pan.yr, anchor: xa,
      dtick: 100, tick0: pan.tick0, showticklabels: false, ticks: '',
      showgrid: true, gridcolor: GRID, gridwidth: 1.5, zeroline: false,
      showline: true, mirror: true, linecolor: GRID, linewidth: 1.5, fixedrange: true
    };
    // tick labels above each track, placed through the track's own x scale
    pan.ticks[t].forEach(v => annotations.push({xref: xa, yref: 'paper', x: v, y: Y(pan.top - 9.6),
      xanchor: 'center', yanchor: 'middle', showarrow: false, text: t === 1 ? v.toFixed(1) : String(v),
      font: {family: FONT, size: 17, color: TXT}}));
    pan.series[t].forEach(([vals, dep], i) => {
      data.push({type: 'scatter', mode: 'lines', x: vals, y: dep, xaxis: xa, yaxis: ya,
        name: curveNames[t][i], line: {color: colors[t][i], width: 1.3}, hoverinfo: 'skip'});
    });
    // hand-drawn legend box matching the reference frames
    const names = curveNames[t];
    const right = trackR[t] - 10;
    const width = 65 + Math.max(...names.map(tw)) + 9.5;
    const left = right - width;
    const top = pan.top + 7.5;
    const bottom = top + 24.6 + 21 * (names.length - 1);
    shapes.push({type: 'path', xref: 'paper', yref: 'paper', layer: 'above',
      path: roundRect(left, top, right, bottom, 4), fillcolor: BG, line: {color: '#cfd3cb', width: 1.4}});
    names.forEach((nm, i) => {
      const cy = top + 10.3 + 21 * i;
      shapes.push({type: 'line', xref: 'paper', yref: 'paper', layer: 'above',
        x0: X(left + 7.6), x1: X(left + 48.8), y0: Y(cy), y1: Y(cy), line: {color: colors[t][i], width: 1.8}});
      annotations.push({xref: 'paper', yref: 'paper', x: X(left + 63.5), y: Y(cy), xanchor: 'left', yanchor: 'middle',
        text: nm, showarrow: false, font: {family: FONT, size: 19, color: TXT}});
    });
  }
  // depth range indicator at the left
  const capTop = p === 0 ? pan.top : 874;
  const stemEnd = p === 0 ? pan.bottom : H;
  shapes.push({type: 'line', xref: 'paper', yref: 'paper', x0: X(42), x1: X(42), y0: Y(capTop), y1: Y(stemEnd),
    line: {color: '#5b7db3', width: 2}});
  shapes.push({type: 'line', xref: 'paper', yref: 'paper', x0: X(22.6), x1: X(62.5), y0: Y(capTop), y1: Y(capTop),
    line: {color: '#2d4d7f', width: 5}});
  if (p === 0) shapes.push({type: 'line', xref: 'paper', yref: 'paper', x0: X(22.6), x1: X(61.6), y0: Y(pan.bottom), y1: Y(pan.bottom),
    line: {color: '#2d4d7f', width: 5}});
  annotations.push({xref: 'paper', yref: 'paper', x: X(20.5), y: Y(pan.labelY), xanchor: 'center', yanchor: 'middle',
    text: '<b>' + depthLabels[p] + '</b>', textangle: -90, showarrow: false, font: {family: FONT, size: 25, color: '#262626'}});
});

Plotly.newPlot('chart', data, layout, {staticPlot: true, displayModeBar: false});
</script>
</body></html>
